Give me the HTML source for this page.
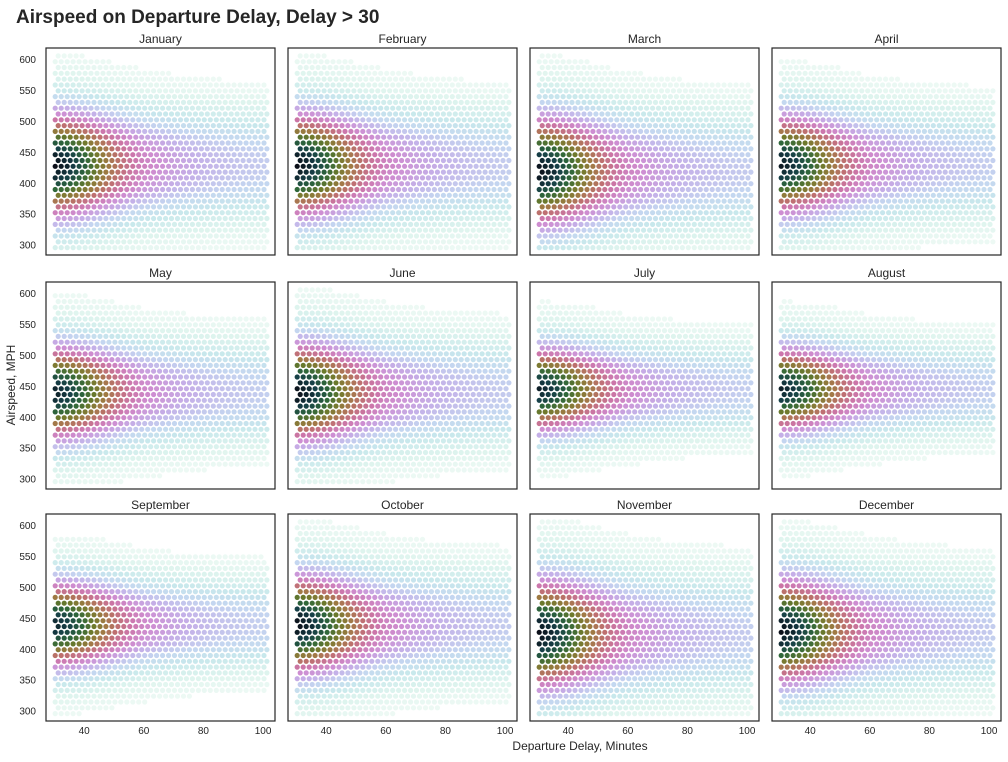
<!DOCTYPE html>
<html><head><meta charset="utf-8"><style>
body{margin:0;background:#fff;font-family:"Liberation Sans",sans-serif;}
svg text{font-family:"Liberation Sans",sans-serif;}
</style></head><body>
<svg id="c" width="1008" height="757" xmlns="http://www.w3.org/2000/svg">
<text x="16" y="23" font-size="19" font-weight="bold" fill="#262626">Airspeed on Departure Delay, Delay &gt; 30</text>
<text x="580" y="750" font-size="12" text-anchor="middle" fill="#262626">Departure Delay, Minutes</text>
<text x="15" y="385" font-size="12" text-anchor="middle" fill="#262626" transform="rotate(-90 15 385)">Airspeed, MPH</text>
</svg>
<script>
const months=["January","February","March","April","May","June","July","August","September","October","November","December"];
// relative density along delay
const delayKnots=[30,35,40,45,50,55,60,70,80,90,100,104];
const delayProf=[1.0,0.95,0.85,0.72,0.6,0.5,0.42,0.34,0.29,0.26,0.24,0.23];
// relative density vs airspeed offset from month center
const speedOff=[-180,-160,-140,-120,-100,-80,-60,-40,-20,0,20,40,60,80,100,120,140,160,180];
const speedProf=[0.02,0.04,0.07,0.13,0.25,0.4,0.6,0.82,0.95,1.0,0.95,0.82,0.6,0.4,0.25,0.13,0.07,0.04,0.02];
const monthCenter=[430,430,420,430,440,440,445,445,440,440,425,430];
const monthWidth=[1.0,1.0,1.05,0.95,0.9,0.95,0.8,0.8,0.82,0.95,1.05,1.0];
const monthPeak=[1.0,1.0,1.0,0.98,0.97,1.0,0.97,0.97,0.96,1.0,1.0,1.0];
const yTicks=[300,350,400,450,500,550,600];
const xTicks=[40,60,80,100];

const colors=[[246,252,248],[222,244,238],[200,232,236],[196,214,240],[196,176,232],[206,142,210],[204,118,170],[190,112,112],[160,122,68],[110,122,44],[48,104,58],[22,64,72],[10,10,20]];
function col(t){t=Math.max(0,Math.min(1,t));const f=t*(colors.length-1),i=Math.min(colors.length-2,Math.floor(f)),u=f-i;const a=colors[i],b=colors[i+1];return `rgb(${a.map((v,k)=>Math.round(v+(b[k]-v)*u)).join(',')})`;}
function interp(xs,ys,x){if(x<=xs[0])return ys[0];for(let i=1;i<xs.length;i++)if(x<=xs[i]){const u=(x-xs[i-1])/(xs[i]-xs[i-1]);return ys[i-1]+(ys[i]-ys[i-1])*u;}return ys[ys.length-1];}
const svg=document.getElementById('c');const NS="http://www.w3.org/2000/svg";
function el(t,a,p){const e=document.createElementNS(NS,t);for(const k in a)e.setAttribute(k,a[k]);(p||svg).appendChild(e);return e;}
const colX=[46,288,530,772],rowY=[48,282,514],PW=229,PH=207;
const xmin=27.2,xmax=104,ymin=284,ymax=619;
months.forEach((m,i)=>{
  const c=i%4,r=Math.floor(i/4),x0=colX[c],y0=rowY[r];
  const sx=v=>x0+(v-xmin)/(xmax-xmin)*PW, sy=v=>y0+PH-(v-ymin)/(ymax-ymin)*PH;
  const g=el('g',{});
  
  
  const cp=el('clipPath',{id:'cp'+i},g);
  el('rect',{x:x0,y:y0,width:PW,height:PH},cp);
  const hg=el('g',{'clip-path':`url(#cp${i})`},g);
  let row=0;
  for(let s=296;s<=612;s+=9.4,row++){
    for(let d=30.3+(row%2?1:0);d<=102;d+=2){
      const I=monthPeak[i]*interp(delayKnots,delayProf,d)*interp(speedOff,speedProf,(s-monthCenter[i])/monthWidth[i]);
      const t=Math.pow(I,0.9);
      if(t<0.03)continue;
      const h=el('circle',{cx:sx(d).toFixed(1),cy:sy(s).toFixed(1),r:2.6,fill:col(t)},hg);
      
      
    }
  }
  const fr=el('rect',{x:x0,y:y0,width:PW,height:PH,fill:'none',stroke:'#262626','stroke-width':1.2},g);
  
  
  const tt=el('text',{x:x0+PW/2,y:y0-5,'font-size':12,'text-anchor':'middle',fill:'#262626'},g);tt.textContent=m;
  
  
  if(c===0)yTicks.forEach(v=>{const t=el('text',{x:x0-10,y:sy(v)+3.5,'font-size':10,'text-anchor':'end',fill:'#262626'},g);t.textContent=v;
    
    });
  if(r===2)xTicks.forEach(v=>{const t=el('text',{x:sx(v),y:y0+PH+13,'font-size':10,'text-anchor':'middle',fill:'#262626'},g);t.textContent=v;
    
    });
});
</script>
</body></html>
